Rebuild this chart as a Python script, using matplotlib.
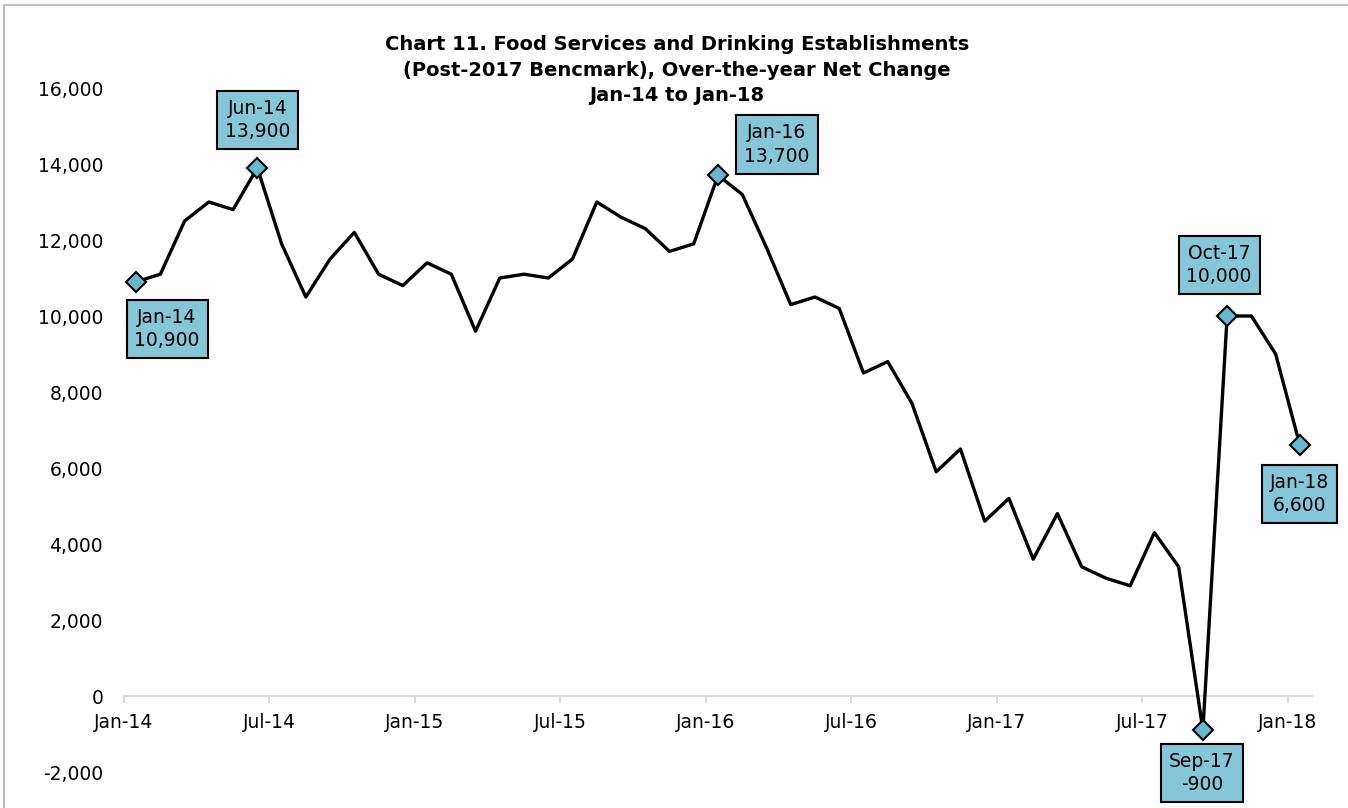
import matplotlib
matplotlib.use('Agg')
import matplotlib.pyplot as plt
from matplotlib.patches import Rectangle

plt.rcParams['font.family'] = ['DejaVu Sans']

# monthly over-the-year net change, Jan-14 .. Jan-18
months = ['Jan-14', 'Feb-14', 'Mar-14', 'Apr-14', 'May-14', 'Jun-14', 'Jul-14', 'Aug-14',
          'Sep-14', 'Oct-14', 'Nov-14', 'Dec-14', 'Jan-15', 'Feb-15', 'Mar-15', 'Apr-15',
          'May-15', 'Jun-15', 'Jul-15', 'Aug-15', 'Sep-15', 'Oct-15', 'Nov-15', 'Dec-15',
          'Jan-16', 'Feb-16', 'Mar-16', 'Apr-16', 'May-16', 'Jun-16', 'Jul-16', 'Aug-16',
          'Sep-16', 'Oct-16', 'Nov-16', 'Dec-16', 'Jan-17', 'Feb-17', 'Mar-17', 'Apr-17',
          'May-17', 'Jun-17', 'Jul-17', 'Aug-17', 'Sep-17', 'Oct-17', 'Nov-17', 'Dec-17',
          'Jan-18']
values = [10900, 11100, 12500, 13000, 12800, 13900, 11900, 10500, 11500, 12200, 11100, 10800,
          11400, 11100, 9600, 11000, 11100, 11000, 11500, 13000, 12600, 12300, 11700, 11900,
          13700, 13200, 11800, 10300, 10500, 10200, 8500, 8800, 7700, 5900, 6500, 4600,
          5200, 3600, 4800, 3400, 3100, 2900, 4300, 3400, -900, 10000, 10000, 9000,
          6600]
tick_labels = ['Jan-14', 'Jul-14', 'Jan-15', 'Jul-15', 'Jan-16', 'Jul-16', 'Jan-17', 'Jul-17', 'Jan-18']
yticks = list(range(-2000, 16001, 2000))

# labelled points and where their boxes sit (pixel offsets)
callouts = {0: (31, -47), 5: (0, 48), 24: (59, 31), 44: (-1, -43), 45: (-8, 51), 48: (0, -49)}

fig = plt.figure(figsize=(13.48, 8.08), dpi=100)
ax = fig.add_axes([124 / 1348, 36 / 808, 1188 / 1348, 684 / 808])

for s in ['top', 'right', 'left']:
    ax.spines[s].set_visible(False)
ax.spines['bottom'].set_position(('data', 0))
ax.spines['bottom'].set_color('#D9D9D9')
ax.spines['bottom'].set_linewidth(1.5)

x = list(range(len(values)))
ax.plot(x, values, color='black', lw=2.4, zorder=3)
mx = list(callouts.keys())
ax.plot(mx, [values[i] for i in mx], ls='none', marker='D', ms=10.5,
        mfc='#65B9CF', mec='black', mew=1.5, zorder=4)

for i, (dx, dy) in callouts.items():
    ax.annotate(f'{months[i]}\n{values[i]:,}', (i, values[i]), xytext=(dx, dy),
                textcoords='offset pixels', ha='center', va='center', fontsize=13.5,
                linespacing=1.3, zorder=5,
                bbox=dict(boxstyle='square,pad=0.42', fc='#85C6D8', ec='black', lw=1.5))

ax.set_xlim(-0.5, 48.5)
ax.set_ylim(-2000, 16000)
ax.set_xticks([-0.5 + 6 * k for k in range(len(tick_labels))])
ax.set_xticklabels(tick_labels)
ax.set_yticks(yticks)
ax.set_yticklabels([f'{v:,}' for v in yticks])

ax.tick_params(axis='x', length=5, width=1.5, color='#D9D9D9', pad=7, labelsize=13.5)
ax.tick_params(axis='y', length=0, pad=15, labelsize=13.5)

fig.text(677 / 1348, 1 - 70 / 808,
         'Chart 11. Food Services and Drinking Establishments\n'
         '(Post-2017 Bencmark), Over-the-year Net Change\nJan-14 to Jan-18',
         ha='center', va='center', fontsize=14, fontweight='bold', linespacing=1.45)

fig.patches.append(Rectangle((4 / 1348, -0.1), 1.2, 1.1 - 5 / 808, transform=fig.transFigure,
                             fill=False, ec='#BFBFBF', lw=1.5))

fig.savefig('out.png', dpi=100)
